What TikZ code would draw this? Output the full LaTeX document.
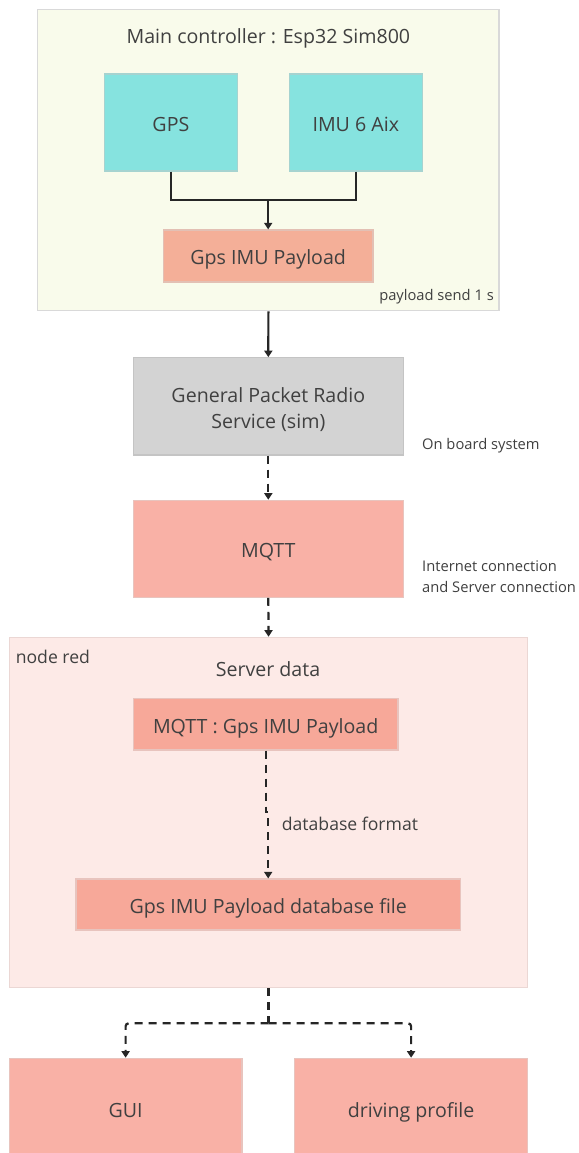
\documentclass[tikz,border=0pt]{standalone}
\usepackage{fontspec}
\setmainfont{Open Sans}
\usetikzlibrary{arrows.meta}
\definecolor{txt}{HTML}{404040}
\definecolor{ctrlfill}{HTML}{F9FBEB}
\definecolor{ctrlline}{HTML}{D9D9D9}
\definecolor{tealfill}{HTML}{86E3DF}
\definecolor{tealline}{HTML}{A6D3D0}
\definecolor{payfill}{HTML}{F4AF98}
\definecolor{payline}{HTML}{E3C0B4}
\definecolor{grayfill}{HTML}{D3D3D3}
\definecolor{grayline}{HTML}{C4C4C4}
\definecolor{salfill}{HTML}{F9B1A6}
\definecolor{salline}{HTML}{E8C4BE}
\definecolor{darksal}{HTML}{F7A899}
\definecolor{servfill}{HTML}{FDEAE7}
\definecolor{servline}{HTML}{EBD7D4}
\definecolor{wire}{HTML}{262626}
\begin{document}
\begin{tikzpicture}[x=1pt,y=-1pt,
  every node/.style={text=txt, inner sep=0pt},
  bigtxt/.style={font=\fontsize{19.6}{26.7}\selectfont},
  smalltxt/.style={font=\fontsize{14.7}{21}\selectfont},
  midtxt/.style={font=\fontsize{17.6}{22}\selectfont},
  boxshape/.style={rectangle, line width=1.2pt, bigtxt, align=center, text height=22.5pt, text depth=4.9pt},
  wirestyle/.style={draw=wire, line width=2.2pt},
  tip/.style={-{Triangle[width=8pt,length=6.5pt]}},
  dashwire/.style={wirestyle, dash pattern=on 8pt off 6pt}
]
\clip (0,0) rectangle (578,1153);
\fill[white] (0,0) rectangle (578,1153);

% main controller container
\node[boxshape, fill=ctrlfill, draw=ctrlline, minimum width=461.2pt, minimum height=301.4pt] (ctrl) at (268.4,160) {};
\node[bigtxt] (ctrltitle) at (268.4,38.3) {Main controller : Esp32 Sim800};
\node[boxshape, fill=tealfill, draw=tealline, minimum width=133pt, minimum height=97pt] (gps) at (170.9,122.5) {GPS};
\node[boxshape, fill=tealfill, draw=tealline, minimum width=133pt, minimum height=97pt] (imu) at (355.8,122.5) {IMU 6 Aix};
\node[boxshape, fill=payfill, draw=payline, minimum width=209.7pt, minimum height=52pt] (pay) at (268.2,256) {Gps IMU Payload};
\node[smalltxt, anchor=east] (sendlbl) at (494,297) {payload send 1 s};

\coordinate (j1) at (268.2,200);
\draw[wirestyle] (gps.south) |- (j1);
\draw[wirestyle] (imu.south) |- (j1);
\draw[wirestyle, tip] (j1) -- (pay.north);

% GPRS
\node[boxshape, text height=, text depth=, fill=grayfill, draw=grayline, minimum width=270pt, minimum height=97.3pt] (gprs) at (268.3,406.4) {\rule{0pt}{21pt}General Packet Radio\\Service (sim)};
\node[smalltxt, anchor=west] (onboard) at (422,445.5) {On board system};
\draw[wirestyle, tip] (ctrl.south) -- (gprs.north);

% MQTT
\node[boxshape, fill=salfill, draw=salline, minimum width=270pt, minimum height=97pt] (mqtt) at (268.3,548.8) {MQTT};
\node[smalltxt, anchor=west, align=left] (inet) at (422,577) {Internet connection\\and Server connection};
\draw[dashwire, tip] (gprs.south) -- (mqtt.north);

% Server container
\node[boxshape, fill=servfill, draw=servline, minimum width=518.5pt, minimum height=350.4pt] (server) at (268.55,812.5) {};
\node[midtxt, anchor=west] (nodered) at (15.6,656.5) {node red};
\node[bigtxt] (servtitle) at (268,669.5) {Server data};
\node[boxshape, fill=darksal, draw=salline, minimum width=264.7pt, minimum height=51.7pt] (mg) at (265.7,724.2) {MQTT : Gps IMU Payload};
\node[boxshape, fill=darksal, draw=salline, minimum width=384.5pt, minimum height=51pt] (db) at (268.2,904.5) {Gps IMU Payload database file};
\node[midtxt, anchor=west] (dbfmt) at (281.7,823.5) {database format};
\draw[dashwire, tip] (mg.south) -- ++(0,61.7) -| (db.north);
\draw[dashwire, tip] (mqtt.south) -- (server.north);

% outputs
\node[boxshape, fill=salfill, draw=salline, minimum width=232.6pt, minimum height=100pt] (gui) at (125.6,1108.3) {GUI};
\node[boxshape, fill=salfill, draw=salline, minimum width=233.4pt, minimum height=100pt] (drive) at (411.1,1108.3) {driving profile};
\coordinate (j2) at (268.55,1023.3);
\draw[dashwire] (server.south) -- (j2);
\draw[dashwire, tip, rounded corners=3pt] (j2) -| (gui.north);
\draw[dashwire, tip, rounded corners=3pt] (j2) -| (drive.north);
\end{tikzpicture}
\end{document}
